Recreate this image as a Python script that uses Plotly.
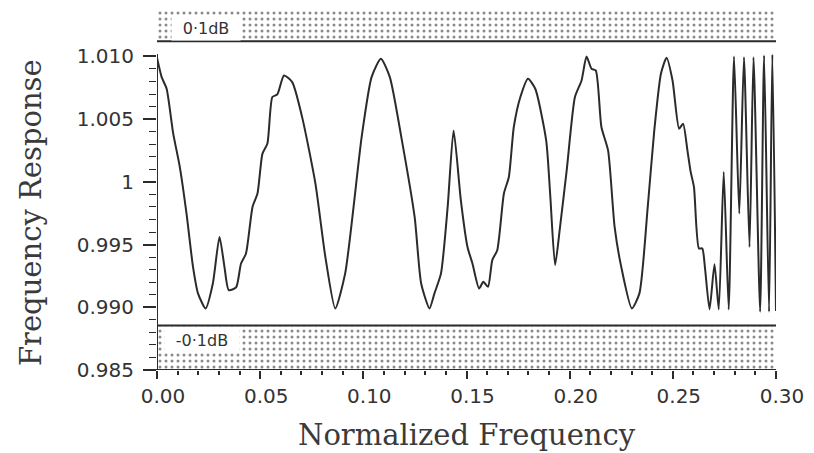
import plotly.graph_objects as go

# ---- data ----
freq = [0.0, 0.00226, 0.00466, 0.00784, 0.01106, 0.01428, 0.01745, 0.01986, 0.02356,
        0.02707, 0.03029, 0.03269, 0.03476, 0.03832, 0.04072, 0.04313, 0.04630, 0.04870,
        0.05111, 0.05351, 0.05591, 0.05832, 0.06154, 0.06553, 0.07034, 0.07678, 0.08159,
        0.08639, 0.09120, 0.09918, 0.10399, 0.10851, 0.11284, 0.11841, 0.12486, 0.12803,
        0.13207, 0.13447, 0.13764, 0.14087, 0.14375, 0.14726, 0.15048, 0.15288, 0.15611,
        0.15817, 0.16043, 0.16250, 0.16490, 0.16813, 0.17053, 0.17293, 0.17611, 0.17981,
        0.18332, 0.18861, 0.19053, 0.19294, 0.19534, 0.19856, 0.20255, 0.20577, 0.20817,
        0.21058, 0.21264, 0.21538, 0.21861, 0.22178, 0.22500, 0.23014, 0.23380, 0.23784,
        0.24101, 0.24423, 0.24697, 0.24986, 0.25303, 0.25495, 0.25707, 0.25865, 0.26024,
        0.26264, 0.26428, 0.26553, 0.26779, 0.27019, 0.27226, 0.27466, 0.27707, 0.27966,
        0.28221, 0.28447, 0.28716, 0.28909, 0.29231, 0.29423, 0.29663, 0.29822, 0.30]
response = [1.00990, 1.00835, 1.00742, 1.00387, 1.00118, 0.99750, 0.99322, 0.99111, 0.98991,
            0.99190, 0.99561, 0.99322, 0.99137, 0.99158, 0.99349, 0.99429, 0.99800, 0.99907,
            1.00225, 1.00305, 1.00676, 1.00697, 1.00848, 1.00795, 1.00516, 0.99986, 0.99402,
            0.98991, 0.99270, 1.00357, 1.00835, 1.00981, 1.00835, 1.00357, 0.99720, 0.99190,
            0.98991, 0.99111, 0.99270, 0.99800, 1.00410, 0.99853, 0.99481, 0.99349, 0.99150,
            0.99203, 0.99163, 0.99376, 0.99455, 0.99907, 1.00039, 1.00437, 1.00676, 1.00822,
            1.00742, 1.00331, 0.99907, 0.99336, 0.99641, 1.00092, 1.00676, 1.00808, 1.00999,
            1.00902, 1.00888, 1.00437, 1.00251, 0.99641, 0.99322, 0.98991, 0.99111, 0.99800,
            1.00410, 1.00862, 1.00989, 1.00808, 1.00424, 1.00464, 1.00251, 1.00079, 0.99959,
            0.99469, 0.99469, 0.99322, 0.98983, 0.99344, 0.98983, 1.00079, 0.98983, 1.00999,
            0.99747, 1.00994, 0.99481, 1.00994, 0.98964, 1.01007, 0.98964, 1.01015, 0.98970]

upper_limit = 1.0112      # +0.1 dB tolerance line
lower_limit = 0.98855     # -0.1 dB tolerance line
band_top = 1.0137
y_bottom = 0.985
y_axis_top = 1.0102
x_start, x_end = 0.0, 0.30

x_tickvals = [0.00, 0.05, 0.10, 0.15, 0.20, 0.25, 0.30]
x_ticktext = ["0.00", "0.05", "0.10", "0.15", "0.20", "0.25", "0.30"]
y_tickvals = [0.985, 0.990, 0.995, 1.000, 1.005, 1.010]
y_ticktext = ["0.985", "0.990", "0.995", "1", "1.005", "1.010"]
y_minorvals = [0.986, 0.987, 0.988, 0.989, 0.991, 0.992, 0.993, 0.994, 0.996, 0.997,
               0.998, 0.999, 1.001, 1.002, 1.003, 1.004, 1.006, 1.007, 1.008, 1.009]

INK = "#2b2b2b"
TICKFONT = dict(family="DejaVu Sans", size=20, color="#333333")
TITLEFONT = dict(family="DejaVu Serif", size=29, color="#3a3a3a")

fig = go.Figure()

pattern = dict(shape=".", size=6, solidity=0.2, fgcolor="#151515", bgcolor="white")
# upper stippled band
fig.add_trace(go.Scatter(
    x=[x_start, x_end, x_end, x_start, x_start],
    y=[upper_limit, upper_limit, band_top, band_top, upper_limit],
    fill="toself", fillcolor="white", fillpattern=pattern,
    mode="lines", line=dict(width=0), hoverinfo="skip", showlegend=False))
# lower stippled band
fig.add_trace(go.Scatter(
    x=[x_start, x_end, x_end, x_start, x_start],
    y=[y_bottom, y_bottom, lower_limit, lower_limit, y_bottom],
    fill="toself", fillcolor="white", fillpattern=pattern,
    mode="lines", line=dict(width=0), hoverinfo="skip", showlegend=False))
# tolerance lines
for lim in (upper_limit, lower_limit):
    fig.add_trace(go.Scatter(x=[x_start, x_end], y=[lim, lim], mode="lines",
                             line=dict(color=INK, width=2), hoverinfo="skip",
                             showlegend=False))
# response curve
fig.add_trace(go.Scatter(x=freq, y=response, mode="lines",
                         line=dict(color=INK, width=2, shape="spline", smoothing=0.6),
                         hoverinfo="skip", showlegend=False))

fig.update_layout(
    width=814, height=453,
    margin=dict(l=157, r=33, t=10, b=83),
    paper_bgcolor="white", plot_bgcolor="white",
    showlegend=False,
    xaxis=dict(range=[x_start, x_end], tickmode="array", tickvals=x_tickvals,
               ticktext=x_ticktext, ticks="outside", ticklen=8, tickwidth=1.5,
               tickcolor=INK, showline=False, showgrid=False, zeroline=False,
               tickfont=TICKFONT, ticklabelshift=6, ticklabelstandoff=0,
               minor=dict(dtick=0.01, ticks="outside", ticklen=4, tickwidth=1.5,
                          tickcolor=INK, showgrid=False)),
    yaxis=dict(range=[y_bottom, band_top], tickmode="array", tickvals=y_tickvals,
               ticktext=y_ticktext, ticks="outside", ticklen=13, tickwidth=1.5,
               tickcolor=INK, showline=False, showgrid=False, zeroline=False,
               tickfont=TICKFONT, ticklabelstandoff=5,
               minor=dict(tickmode="array", tickvals=y_minorvals, ticks="outside",
                          ticklen=7, tickwidth=1.2, tickcolor=INK, showgrid=False)),
    shapes=[
        dict(type="line", xref="x", yref="y", x0=x_start, x1=x_start,
             y0=y_bottom, y1=y_axis_top, line=dict(color=INK, width=2)),
        dict(type="line", xref="paper", yref="y", x0=-0.02, x1=1,
             y0=y_bottom, y1=y_bottom, line=dict(color=INK, width=2)),
    ],
    annotations=[
        dict(text="0·1dB", x=0.0237, y=1.0123, xref="x", yref="y", showarrow=False,
             bgcolor="white", width=66, height=22,
             font=dict(family="DejaVu Sans", size=16, color="#333333")),
        dict(text="-0·1dB", x=0.0219, y=0.98743, xref="x", yref="y", showarrow=False,
             bgcolor="white", width=72, height=20,
             font=dict(family="DejaVu Sans", size=16, color="#333333")),
        dict(text="Normalized Frequency", x=0.5, y=-0.18, xref="paper", yref="paper",
             xanchor="center", yanchor="middle", showarrow=False, font=TITLEFONT),
        dict(text="Frequency Response", x=-0.2035, y=0.436, xref="paper", yref="paper",
             xanchor="center", yanchor="middle", textangle=-90, showarrow=False,
             font=TITLEFONT),
    ],
)

fig.write_html("out.html", config=dict(displayModeBar=False))
